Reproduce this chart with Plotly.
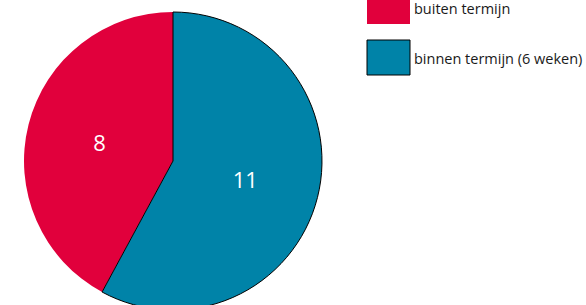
import plotly.graph_objects as go

labels = ["buiten termijn", "binnen termijn (6 weken)"]
values = [8, 11]
colors = ["#E1003C", "#0083A8"]
outline_widths = [0, 1]

W, H = 586, 322
FONT = "Open Sans"

# start the first (red) slice where the blue one ends, so blue starts at 12 o'clock
start_rotation = 360 * values[1] / sum(values)

fig = go.Figure(go.Pie(
    labels=labels,
    values=values,
    sort=False,
    direction="clockwise",
    rotation=start_rotation,
    marker=dict(colors=colors, line=dict(color="#000000", width=outline_widths)),
    textinfo="value",
    textposition="inside",
    insidetextorientation="horizontal",
    textfont=dict(family=FONT, size=22, color="#FFFFFF"),
    domain=dict(x=[24 / W, 322 / W], y=[0, 1]),
    hoverinfo="label+value",
    showlegend=False,
))

# custom legend (swatches + labels)
sw_x0, sw_x1 = 367, 410
sw_h = 35
swatch_centers = [6.5, 57.5]
text_centers = [8.5, 58]
shapes = []
annotations = []
for i, lab in enumerate(labels):
    yc = swatch_centers[i]
    shapes.append(dict(
        type="rect", xref="paper", yref="paper",
        x0=sw_x0 / W, x1=sw_x1 / W,
        y0=(H - (yc + sw_h / 2)) / H, y1=(H - (yc - sw_h / 2)) / H,
        fillcolor=colors[i],
        line=dict(color="#000000", width=outline_widths[i]),
    ))
    annotations.append(dict(
        xref="paper", yref="paper", x=412 / W, y=(H - text_centers[i]) / H,
        xanchor="left", yanchor="middle", text=lab, showarrow=False,
        font=dict(family=FONT, size=14.5, color="#1A1A1A"),
    ))

fig.update_layout(
    width=W, height=H,
    margin=dict(l=0, r=0, t=0, b=0),
    paper_bgcolor="#FFFFFF",
    plot_bgcolor="#FFFFFF",
    shapes=shapes,
    annotations=annotations,
)

fig.write_html(
    "out.html",
    config={"displayModeBar": False},
    post_script="document.body.style.margin='0';document.body.style.overflow='hidden';",
)
